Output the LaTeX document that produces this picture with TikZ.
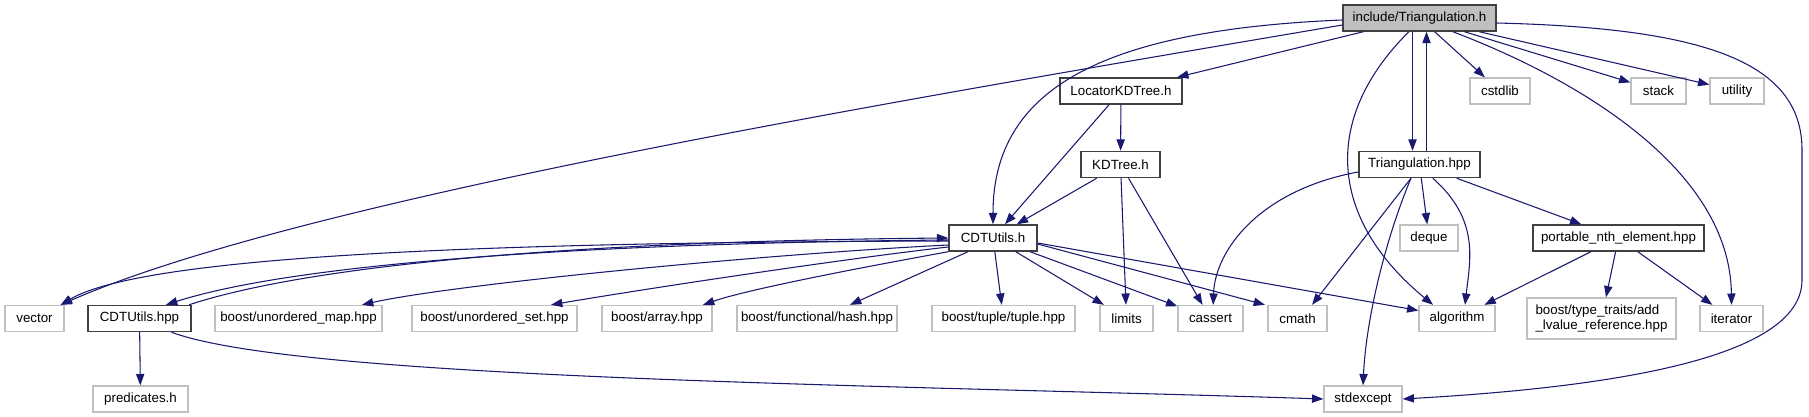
\documentclass[tikz,border=0pt]{standalone}
\usepackage{fontspec}
\setmainfont{Liberation Sans}
\usetikzlibrary{arrows.meta, positioning, calc}
\definecolor{edgecolor}{RGB}{25,25,112}
\definecolor{extcolor}{RGB}{191,191,191}
\definecolor{doccolor}{RGB}{64,64,64}

\begin{document}
\begin{tikzpicture}[
    x=0.75pt, y=-0.75pt,
    >={Triangle[length=8.5pt, width=6.2pt]},
    every node/.style={font=\fontsize{10}{11.5}\selectfont, inner sep=0pt, minimum height=19.5pt},
    docfile/.style={draw=doccolor, line width=1.1pt, fill=white, minimum width=#1*0.75pt},
    sysfile/.style={draw=extcolor, line width=1pt, fill=white, minimum width=#1*0.75pt},
    rootfile/.style={draw=doccolor, line width=1.1pt, fill=extcolor, minimum width=#1*0.75pt},
    dep/.style={->, edgecolor, line width=0.8pt},
]
    \useasboundingbox (0,0) rectangle (1809,417);

    % files
    \node[rootfile=153] (tri) at (1419.5,18) {include/Triangulation.h};
    \node[docfile=122] (locator) at (1121,91) {LocatorKDTree.h};
    \node[sysfile=60] (cstdlib) at (1500,91) {cstdlib};
    \node[sysfile=55] (stack) at (1658.5,91) {stack};
    \node[sysfile=54] (utility) at (1737,91) {utility};
    \node[docfile=79] (kdtree) at (1120.5,164.5) {KDTree.h};
    \node[docfile=121] (trihpp) at (1419.5,164.5) {Triangulation.hpp};
    \node[docfile=88] (utilsh) at (993,238) {CDTUtils.h};
    \node[sysfile=58] (deque) at (1429,238) {deque};
    \node[docfile=171] (nth) at (1618.5,238) {portable\_nth\_element.hpp};
    \node[sysfile=59] (vector) at (34.5,318.5) {vector};
    \node[docfile=103] (utilshpp) at (139.5,318.5) {CDTUtils.hpp};
    \node[sysfile=167] (umap) at (298.5,318.5) {boost/unordered\_map.hpp};
    \node[sysfile=165] (uset) at (494.5,318.5) {boost/unordered\_set.hpp};
    \node[sysfile=110] (barray) at (657,318.5) {boost/array.hpp};
    \node[sysfile=160] (bhash) at (817,318.5) {boost/functional/hash.hpp};
    \node[sysfile=143] (btuple) at (1003.5,318.5) {boost/tuple/tuple.hpp};
    \node[sysfile=53] (limits) at (1126.5,318.5) {limits};
    \node[sysfile=65] (cassert) at (1210.5,318.5) {cassert};
    \node[sysfile=59] (cmath) at (1297.5,318.5) {cmath};
    \node[sysfile=76] (algorithm) at (1457,318.5) {algorithm};
    \node[sysfile=149, minimum height=30.75pt, align=left] (addlref) at (1601.5,318.5) {boost/type\_traits/add\\\_lvalue\_reference.hpp};
    \node[sysfile=63] (iterator) at (1731.5,318.5) {iterator};
    \node[sysfile=95] (predicates) at (140.5,399) {predicates.h};
    \node[sysfile=78] (stdexcept) at (1363,399) {stdexcept};

    % include/Triangulation.h
    \draw[dep] ([yshift=-5.25pt]tri.west) .. controls (900,100) and (300,200) .. ([xshift=-3pt]vector.north east);
    \draw[dep] ([yshift=-1.5pt]tri.west) .. controls (1100,30) and (993,90) .. (utilsh.north);
    \draw[dep] (tri) -- (locator);
    \draw[dep] (tri) -- (cstdlib);
    \draw[dep] (tri) -- (stack);
    \draw[dep] (tri) -- (utility);
    \draw[dep] ([xshift=-5.25pt]tri.south) -- ([xshift=-5.25pt]trihpp.north);
    \draw[dep] ([xshift=-8pt]tri.south) .. controls (1320,120) and (1330,220) .. ([xshift=-18pt]algorithm.north);
    \draw[dep] ([xshift=25pt]tri.south) .. controls (1580,80) and (1730,170) .. (iterator.north);
    \draw[dep] ([yshift=-3.75pt]tri.east) .. controls (1700,28) and (1802,60) .. (1802,150)
        -- (1802,280) .. controls (1802,350) and (1650,385) .. (stdexcept.east);

    % LocatorKDTree.h and KDTree.h
    \draw[dep] (locator) -- (kdtree);
    \draw[dep] (locator) -- (utilsh);
    \draw[dep] (kdtree) -- (utilsh);
    \draw[dep] (kdtree) -- (limits);
    \draw[dep] (kdtree) -- (cassert);

    % Triangulation.hpp
    \draw[dep] ([xshift=5.25pt]trihpp.north) -- ([xshift=5.25pt]tri.south);
    \draw[dep] ([yshift=-5.6pt]trihpp.west) .. controls (1260,190) and (1215,250) .. ([xshift=2pt]cassert.north);
    \draw[dep] ([xshift=-6.4pt]trihpp.south) -- ([xshift=10.9pt]cmath.north);
    \draw[dep] ([xshift=-6.4pt]trihpp.south) .. controls (1385,240) and (1366,320) .. (stdexcept.north);
    \draw[dep] (trihpp) -- (deque);
    \draw[dep] ([xshift=10pt]trihpp.south) .. controls (1480,220) and (1470,260) .. ([xshift=6pt]algorithm.north);
    \draw[dep] (trihpp) -- (nth);

    % portable_nth_element.hpp
    \draw[dep] (nth) -- (algorithm);
    \draw[dep] (nth) -- (addlref);
    \draw[dep] (nth) -- (iterator);

    % CDTUtils.h
    \draw[dep] ([yshift=-2.25pt]utilsh.west) .. controls (550,242) and (150,252) .. ([xshift=-3pt]vector.north east);
    \draw[dep] ([yshift=-1.5pt]utilsh.west) .. controls (600,243) and (300,262) .. ([xshift=19.9pt]utilshpp.north);
    \draw[dep] ([yshift=-5.25pt]utilsh.west) .. controls (750,255) and (450,285) .. ([xshift=47.6pt]umap.north);
    \draw[dep] ([yshift=-6.75pt]utilsh.west) .. controls (850,258) and (650,288) .. ([xshift=42.4pt]uset.north);
    \draw[dep] (utilsh.south west) .. controls (820,275) and (740,292) .. ([xshift=34.5pt]barray.north);
    \draw[dep] ([xshift=-18.75pt]utilsh.south) -- ([xshift=24.75pt]bhash.north);
    \draw[dep] (utilsh) -- (btuple);
    \draw[dep] (utilsh) -- (limits);
    \draw[dep] (utilsh) -- (cassert);
    \draw[dep] ([yshift=-4.5pt]utilsh.east) -- ([xshift=-24.4pt]cmath.north);
    \draw[dep] ([yshift=-3.75pt]utilsh.east) -- ([yshift=6pt]algorithm.west);

    % CDTUtils.hpp
    \draw[dep] ([xshift=-2pt]utilshpp.north east) .. controls (320,262) and (600,241) .. (utilsh.west);
    \draw[dep] (utilshpp) -- (predicates);
    \draw[dep] ([xshift=24pt]utilshpp.south) .. controls (300,380) and (900,385) .. (stdexcept.west);
\end{tikzpicture}
\end{document}
